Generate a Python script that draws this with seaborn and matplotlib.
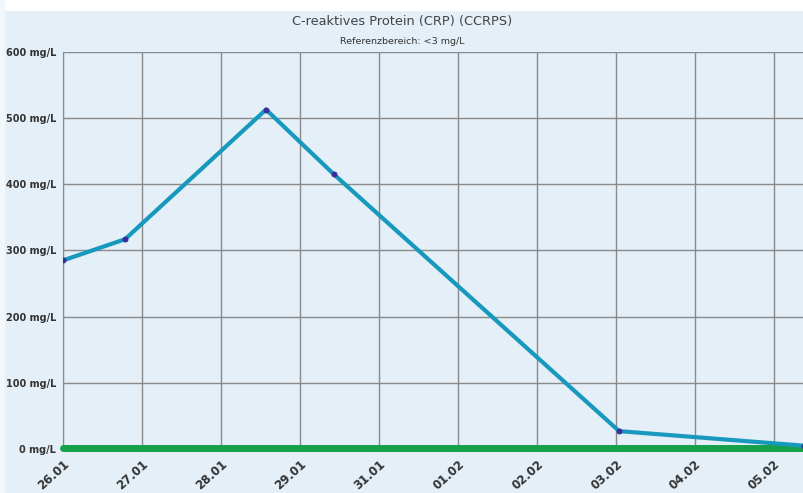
import matplotlib
matplotlib.use("Agg")
import matplotlib.pyplot as plt
import seaborn as sns
import pandas as pd
from matplotlib.patches import Rectangle

# Messwerte CRP (mg/L), Position in Rastereinheiten der x-Achse
zeit = [0.0, 0.785, 2.57, 3.43, 7.04, 9.38]
crp = [285, 317, 513, 415, 27, 5]

tick_labels = ["26.01", "27.01", "28.01", "29.01", "31.01",
               "01.02", "02.02", "03.02", "04.02", "05.02"]
y_ticks = [0, 100, 200, 300, 400, 500, 600]

df = pd.DataFrame({"zeit": zeit, "crp": crp})

sns.set_style("white")
plt.rcParams["font.family"] = ["DejaVu Sans"]

bg = "#e4eff7"
fig = plt.figure(figsize=(8.04, 4.93), dpi=100, facecolor=bg)
fig.patches.append(Rectangle((0, 1 - 10 / 493), 1, 10 / 493,
                             transform=fig.transFigure, color="white", zorder=0))
fig.patches.append(Rectangle((0, 0), 4 / 804, 1,
                             transform=fig.transFigure, color="#f2f7fb", zorder=0))
ax = fig.add_axes([63 / 804, 44 / 493, 741 / 804, 397 / 493])
ax.set_facecolor(bg)

# Referenzbereich
ax.axhline(1.5, color="#16a04a", lw=5, zorder=3, clip_on=False)

sns.lineplot(data=df, x="zeit", y="crp", ax=ax, color="#1799bd", lw=3,
             marker="o", markersize=3.5, markerfacecolor="#3b2a9c",
             markeredgecolor="#3b2a9c", zorder=4)

ax.set_xlim(0, 9.38)
ax.set_ylim(0, 600)
ax.set_xticks(range(len(tick_labels)))
ax.set_xticklabels(tick_labels, rotation=42, ha="right", rotation_mode="anchor",
                   fontsize=8.5, fontweight="bold", color="#333333")
ax.set_yticks(y_ticks)
ax.set_yticklabels([f"{v} mg/L" for v in y_ticks], fontsize=7,
                   fontweight="bold", color="#333333")
ax.tick_params(axis="both", length=0, pad=5)
ax.tick_params(axis="x", pad=6)
ax.grid(True, color="#8a8a8a", lw=1)
ax.set_axisbelow(True)
for s in ["top", "right", "bottom"]:
    ax.spines[s].set_visible(False)
ax.spines["left"].set_color("#8a8a8a")
ax.set_xlabel("")
ax.set_ylabel("")

fig.text(0.5, 1 - 22 / 493, "C-reaktives Protein (CRP) (CCRPS)", ha="center",
         va="center", fontsize=9.3, color="#444444")
fig.text(0.5, 1 - 41 / 493, "Referenzbereich: <3 mg/L", ha="center",
         va="center", fontsize=6.8, color="#333333")

fig.savefig("out.png", dpi=100, facecolor=bg)
